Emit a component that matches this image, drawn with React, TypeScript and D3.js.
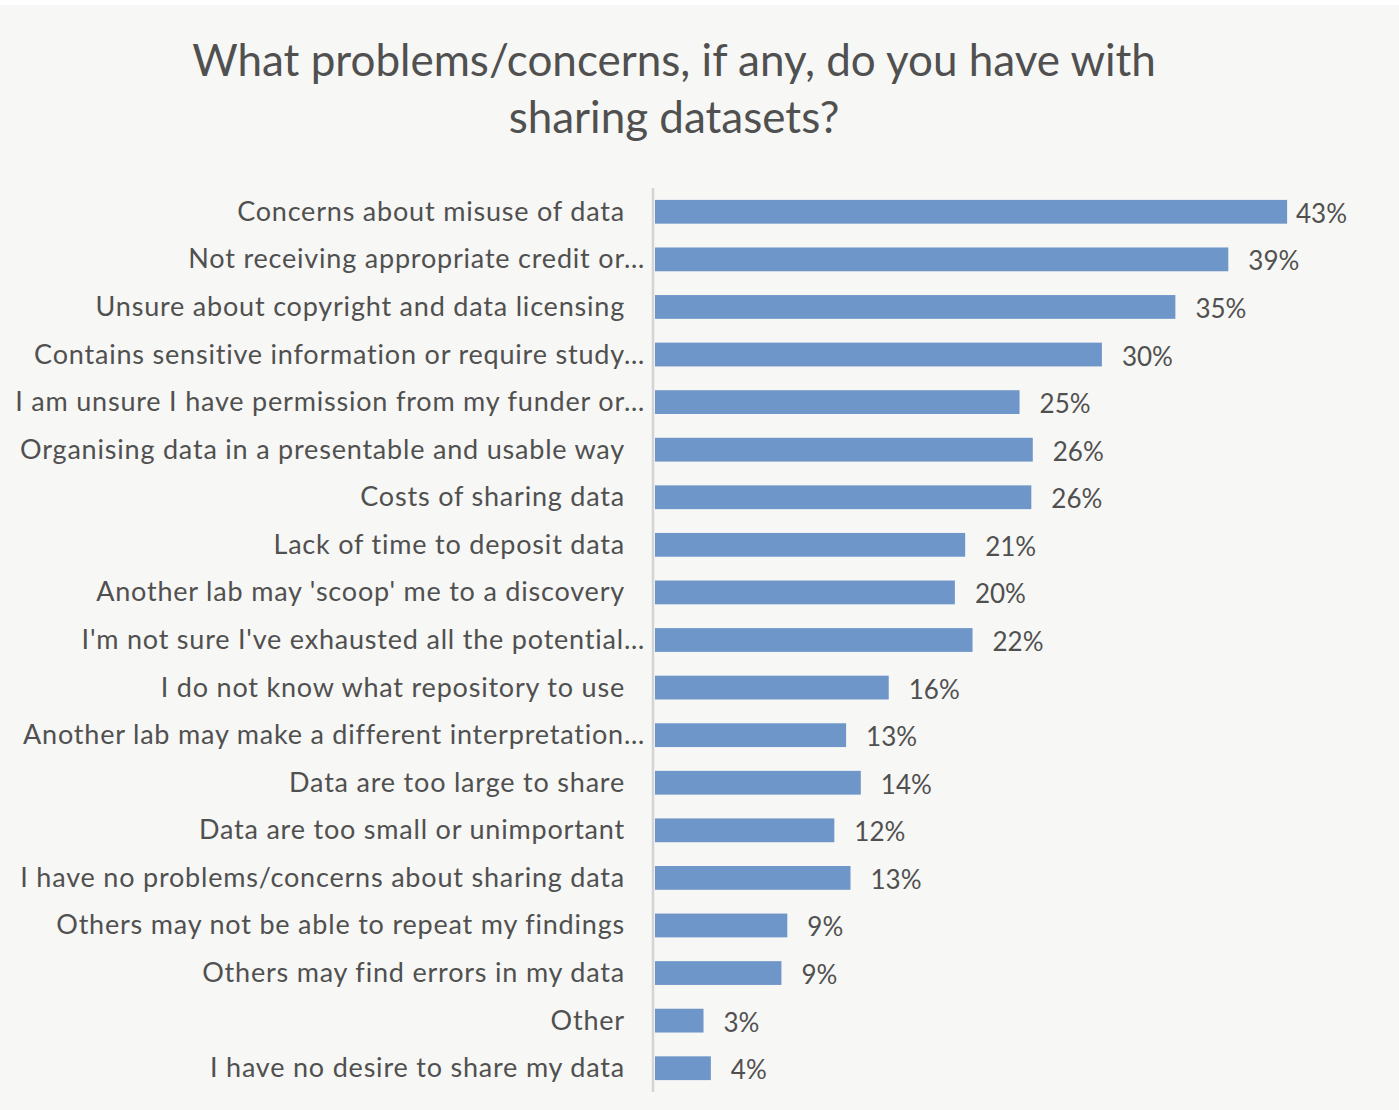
import React, { useEffect, useRef } from "react";
import * as d3 from "d3";

const titleLines = ["What problems/concerns, if any, do you have with", "sharing datasets?"];

const categories = [
  "Concerns about misuse of data",
  "Not receiving appropriate credit or…",
  "Unsure about copyright and data licensing",
  "Contains sensitive information or require study…",
  "I am unsure I have permission from my funder or…",
  "Organising data in a presentable and usable way",
  "Costs of sharing data",
  "Lack of time to deposit data",
  "Another lab may 'scoop' me to a discovery",
  "I'm not sure I've exhausted all the potential…",
  "I do not know what repository to use",
  "Another lab may make a different interpretation…",
  "Data are too large to share",
  "Data are too small or unimportant",
  "I have no problems/concerns about sharing data",
  "Others may not be able to repeat my findings",
  "Others may find errors in my data",
  "Other",
  "I have no desire to share my data",
];

const values = [43.0, 39.0, 35.4, 30.4, 24.8, 25.7, 25.6, 21.1, 20.4, 21.6, 15.9, 13.0, 14.0, 12.2, 13.3, 9.0, 8.6, 3.3, 3.8];

const W = 1399;
const H = 1110;
const FONT = "Lato, 'Open Sans', sans-serif";
const TEXT = "#505050";
const BAR = "#6f96c9";

export default function App() {
  const ref = useRef<SVGSVGElement | null>(null);

  useEffect(() => {
    document.body.style.margin = "0";
    const svg = d3.select(ref.current);
    svg.selectAll("*").remove();

    svg.append("rect").attr("width", W).attr("height", H).attr("fill", "#ffffff");
    svg.append("rect").attr("x", 0).attr("y", 5).attr("width", W).attr("height", H - 5).attr("fill", "#f7f7f5");

    const title = svg.append("text")
      .attr("text-anchor", "middle")
      .attr("font-family", FONT)
      .attr("font-size", 44)
      .attr("fill", TEXT);
    titleLines.forEach((t, i) => {
      title.append("tspan").attr("x", 674).attr("y", 76 + i * 57).text(t);
    });

    const x = d3.scaleLinear().domain([0, 45]).range([655, 1316.5]);
    const y = d3.scaleBand<string>().domain(categories).range([188, 1092]).paddingInner(0.5).paddingOuter(0.25);
    const data = categories.map((c, i) => ({ c, v: values[i] }));

    svg.append("g").selectAll("rect").data(data).join("rect")
      .attr("x", x(0))
      .attr("y", d => y(d.c)!)
      .attr("width", d => x(d.v) - x(0))
      .attr("height", y.bandwidth())
      .attr("fill", BAR);

    svg.append("line")
      .attr("x1", 653).attr("x2", 653)
      .attr("y1", 188).attr("y2", 1092)
      .attr("stroke", "#d4d4d4").attr("stroke-width", 2.5);

    svg.append("g").selectAll("text").data(data).join("text")
      .attr("x", d => (d.c.endsWith("…") ? 645 : 625))
      .attr("y", d => y(d.c)! + y.bandwidth() / 2 + 9)
      .attr("text-anchor", "end")
      .attr("font-family", FONT)
      .attr("font-size", 27)
      .attr("letter-spacing", 0.8)
      .attr("fill", TEXT)
      .text(d => d.c);

    const rightLimit = 1347;
    svg.append("g").selectAll("text").data(data).join("text")
      .attr("y", d => y(d.c)! + y.bandwidth() / 2 + 11)
      .attr("font-family", FONT)
      .attr("font-size", 26)
      .attr("fill", TEXT)
      .text(d => `${Math.round(d.v)}%`)
      .each(function (d) {
        const el = this as SVGTextElement;
        const w = el.getComputedTextLength();
        const start = x(d.v) + 20;
        if (start + w > rightLimit) {
          d3.select(el).attr("x", rightLimit).attr("text-anchor", "end");
        } else {
          d3.select(el).attr("x", start).attr("text-anchor", "start");
        }
      });
  }, []);

  return <svg ref={ref} width={W} height={H} style={{ display: "block" }} />;
}
